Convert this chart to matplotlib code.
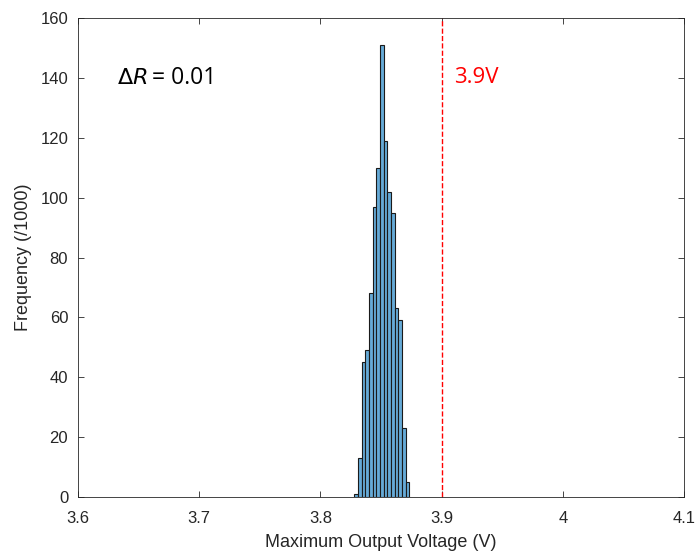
import numpy as np
import matplotlib.pyplot as plt

# histogram (1000 runs)
bin_start = 3.828
bin_width = 0.00303
counts = [1, 13, 45, 49, 68, 97, 110, 151, 119, 102, 95, 63, 59, 23, 5]
limit_v = 3.9

x_ticks = [3.6, 3.7, 3.8, 3.9, 4.0, 4.1]
x_ticklabels = ['3.6', '3.7', '3.8', '3.9', '4', '4.1']
y_ticks = [0, 20, 40, 60, 80, 100, 120, 140, 160]

plt.rcParams['font.family'] = ['Liberation Sans', 'DejaVu Sans']
axcol = '#262626'

fig = plt.figure(figsize=(6.98, 5.57), dpi=100)
ax = fig.add_axes([0.1117, 0.1077, 0.8683, 0.86])

edges = bin_start + bin_width*np.arange(len(counts) + 1)
ax.bar(edges[:-1], counts, width=bin_width, align='edge',
       color='#66aad7', edgecolor='#1a1a1a', linewidth=0.8)
ax.axvline(limit_v, color='#ff0000', linestyle='--', linewidth=1.0)

ax.text(3.632, 140, r'$\Delta R$', fontsize=16, va='center', ha='left', family='DejaVu Sans')
ax.text(3.661, 140, '= 0.01', fontsize=16.5, va='center', ha='left', family=['Open Sans', 'DejaVu Sans'])
ax.text(3.91, 140, '3.9V', fontsize=16, color='#ff0000', va='center', ha='left', family=['Open Sans', 'DejaVu Sans'])

ax.set_xlim(3.6, 4.1)
ax.set_ylim(0, 160)
ax.set_xticks(x_ticks)
ax.set_xticklabels(x_ticklabels)
ax.set_yticks(y_ticks)
ax.tick_params(direction='in', length=4, width=0.6, colors=axcol, labelsize=12, top=True, right=True)
ax.tick_params(axis='x', pad=10)
ax.tick_params(axis='y', pad=7)
for s in ax.spines.values():
    s.set_color(axcol)
    s.set_linewidth(0.6)

ax.set_xlabel('Maximum Output Voltage (V)', fontsize=13, color=axcol, labelpad=6)
ax.set_ylabel('Frequency (/1000)', fontsize=13, color=axcol, labelpad=6)

plt.savefig('out.png', dpi=100)
